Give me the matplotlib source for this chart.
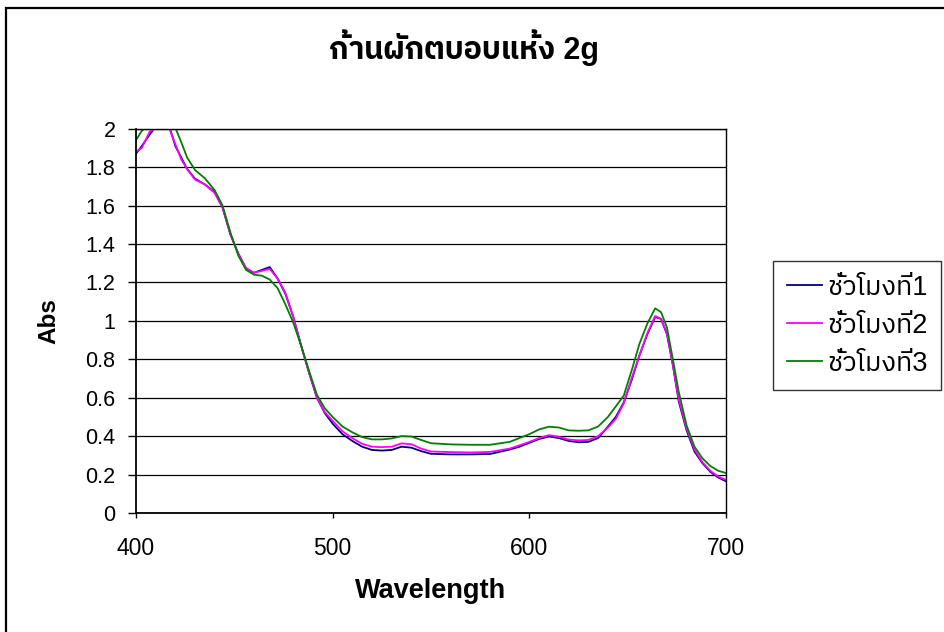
import matplotlib
matplotlib.use('Agg')
import matplotlib.pyplot as plt
from matplotlib import font_manager
from matplotlib.ft2font import FT2Font
from matplotlib.patches import Rectangle

# look for an installed font that has Thai glyphs
thai_font = None
names = []
for f in font_manager.fontManager.ttflist:
    try:
        if ord('ก') in FT2Font(f.fname).get_charmap():
            names.append(f.name)
    except Exception:
        pass
names = sorted(set(names))
for pref in names:
    if 'Thai' in pref:
        thai_font = pref
        break
if thai_font is None and names:
    thai_font = names[0]
families = ['Liberation Sans'] + ([thai_font] if thai_font else []) + ['DejaVu Sans']
plt.rcParams['font.family'] = families

title = 'ก้านผักตบอบแห้ง 2g'
series_names = ['ชั่วโมงที่1', 'ชั่วโมงที่2', 'ชั่วโมงที่3']

wavelength = [400, 403, 407, 410, 413, 417, 420, 423, 426, 430, 435, 440, 444, 448, 452,
              456, 460, 464, 468, 472, 476, 480, 484, 488, 492, 496, 500, 505, 510, 515,
              520, 525, 530, 535, 540, 545, 550, 560, 570, 580, 590, 595, 600, 605, 610,
              615, 620, 625, 630, 635, 640, 644, 648, 652, 656, 660, 664, 667, 670, 673,
              676, 680, 684, 688, 692, 696, 700]

abs_h1 = [1.87, 1.91, 1.97, 2.01, 2.02, 2.01, 1.91, 1.85, 1.79, 1.74, 1.71, 1.67, 1.59, 1.45, 1.35,
          1.27, 1.25, 1.265, 1.28, 1.22, 1.14, 1.02, 0.87, 0.73, 0.60, 0.52, 0.465, 0.41, 0.375, 0.345,
          0.328, 0.325, 0.328, 0.345, 0.34, 0.322, 0.308, 0.305, 0.305, 0.307, 0.33, 0.345, 0.365, 0.385, 0.398,
          0.39, 0.375, 0.368, 0.37, 0.39, 0.45, 0.50, 0.575, 0.69, 0.82, 0.93, 1.02, 1.01, 0.93, 0.77,
          0.58, 0.43, 0.32, 0.26, 0.215, 0.185, 0.165]

abs_h2 = [1.88, 1.90, 1.985, 2.0, 2.01, 2.0, 1.92, 1.84, 1.79, 1.735, 1.71, 1.665, 1.59, 1.45, 1.35,
          1.275, 1.25, 1.26, 1.27, 1.22, 1.145, 1.02, 0.87, 0.73, 0.60, 0.525, 0.48, 0.425, 0.39, 0.36,
          0.345, 0.343, 0.345, 0.362, 0.358, 0.335, 0.32, 0.317, 0.315, 0.318, 0.335, 0.352, 0.37, 0.39, 0.405,
          0.397, 0.382, 0.378, 0.38, 0.40, 0.445, 0.49, 0.57, 0.70, 0.82, 0.935, 1.025, 1.01, 0.935, 0.77,
          0.59, 0.44, 0.33, 0.265, 0.22, 0.19, 0.172]

abs_h3 = [1.94, 1.99, 2.02, 2.03, 2.03, 2.02, 2.005, 1.93, 1.85, 1.785, 1.742, 1.68, 1.60, 1.46, 1.34,
          1.265, 1.24, 1.235, 1.215, 1.17, 1.085, 0.99, 0.87, 0.74, 0.615, 0.545, 0.50, 0.45, 0.42, 0.395,
          0.383, 0.383, 0.388, 0.40, 0.398, 0.38, 0.363, 0.357, 0.355, 0.355, 0.37, 0.39, 0.41, 0.435, 0.449,
          0.445, 0.43, 0.428, 0.43, 0.45, 0.50, 0.555, 0.61, 0.74, 0.88, 0.985, 1.065, 1.045, 0.965, 0.80,
          0.63, 0.455, 0.345, 0.285, 0.245, 0.22, 0.208]

y_ticks = [0, 0.2, 0.4, 0.6, 0.8, 1, 1.2, 1.4, 1.6, 1.8, 2]
y_labels = ['0', '0.2', '0.4', '0.6', '0.8', '1', '1.2', '1.4', '1.6', '1.8', '2']
x_ticks = [400, 500, 600, 700]

colors = ['#000080', '#ff00ff', '#008000']

fig = plt.figure(figsize=(9.45, 6.32), dpi=100)
ax = fig.add_axes([0.1439, 0.1883, 0.6243, 0.6081])

for ys, name, c in zip([abs_h1, abs_h2, abs_h3], series_names, colors):
    ax.plot(wavelength, ys, color=c, lw=1.3, label=name)

ax.set_xlim(400, 700)
ax.set_ylim(0, 2)
ax.set_yticks(y_ticks)
ax.set_yticklabels(y_labels)
ax.set_xticks(x_ticks)
ax.yaxis.grid(True, color='black', lw=0.9)
ax.set_axisbelow(True)
ax.tick_params(axis='y', direction='out', length=5.8, width=1, labelsize=15.5, pad=9)
ax.tick_params(axis='x', direction='out', length=3.6, width=1, labelsize=16.5, pad=14)
for s in ax.spines.values():
    s.set_linewidth(1.3)
ax.spines['top'].set_linewidth(1.0)
ax.spines['right'].set_linewidth(1.0)

ax.set_xlabel('Wavelength', fontsize=19.5, fontweight='bold')
ax.xaxis.set_label_coords(0.5, -0.168)
ax.set_ylabel('Abs', fontsize=17.5, fontweight='bold')
ax.yaxis.set_label_coords(-0.128, 0.5)

fig.text(464 / 945, 1 - 48 / 632, title, ha='center', va='center', fontsize=22, fontweight='bold')

leg = ax.legend(loc='upper left', bbox_to_anchor=(773 / 945, 1 - 261 / 632),
                bbox_transform=fig.transFigure, frameon=True, fancybox=False,
                fontsize=19.5, handlelength=1.3, handletextpad=0.2, labelspacing=0.45,
                borderpad=0.5, borderaxespad=0)
leg.get_frame().set_edgecolor('black')
leg.get_frame().set_linewidth(1.0)

# outer chart border (runs off the right and bottom edges)
fig.patches.append(Rectangle((6 / 945, -0.1), 2, 1.1 - 8 / 632, transform=fig.transFigure,
                             fill=False, edgecolor='black', lw=1.6))

fig.savefig('out.png', dpi=100)
